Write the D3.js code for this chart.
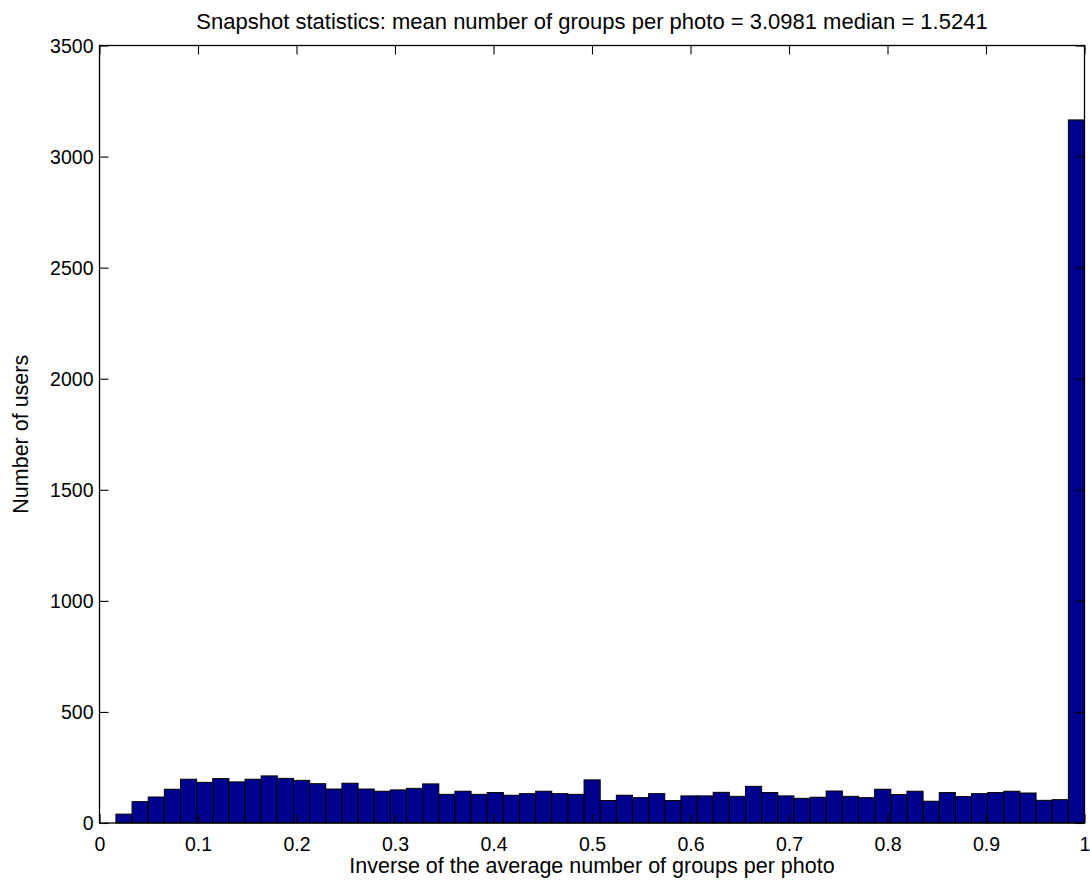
<!DOCTYPE html>
<html>
<head>
<meta charset="utf-8">
<script src="https://cdn.jsdelivr.net/npm/d3@7"></script>
<style>
  html, body { margin: 0; padding: 0; background: #fff; }
  svg { display: block; font-family: "Liberation Sans", Arial, Helvetica, sans-serif; }
</style>
</head>
<body>
<svg id="chart" width="1090" height="880"></svg>
<script>
// Histogram of users: inverse of the average number of groups per photo (60 bins)
const binStart = 1 / 60;
const binEnd = 1;
const counts = [
  40, 96, 117, 152, 197, 183, 200, 185, 197, 212,
  201, 192, 177, 153, 179, 153, 143, 149, 156, 176,
  129, 143, 129, 137, 125, 132, 143, 132, 129, 194,
  101, 125, 114, 132, 101, 122, 122, 138, 120, 165,
  137, 122, 111, 116, 144, 120, 114, 152, 128, 143,
  98, 137, 119, 132, 137, 143, 135, 102, 105, 3165
];
const xTicks = [0, 0.1, 0.2, 0.3, 0.4, 0.5, 0.6, 0.7, 0.8, 0.9, 1];
const yTicks = [0, 500, 1000, 1500, 2000, 2500, 3000, 3500];
const titleText = "Snapshot statistics: mean number of groups per photo = 3.0981 median = 1.5241";
const xLabelText = "Inverse of the average number of groups per photo";
const yLabelText = "Number of users";

const svg = d3.select("#chart");
const margin = { left: 99.5, right: 1084.5, top: 45.5, bottom: 823 };

const x = d3.scaleLinear().domain([0, 1]).range([margin.left, margin.right]);
const y = d3.scaleLinear().domain([0, 3500]).range([margin.bottom, margin.top]);

const binWidth = (binEnd - binStart) / counts.length;
const bins = counts.map((c, i) => ({
  x0: binStart + i * binWidth,
  x1: binStart + (i + 1) * binWidth,
  count: c
}));

// bars
svg.append("g")
  .selectAll("rect")
  .data(bins)
  .join("rect")
  .attr("x", d => x(d.x0))
  .attr("width", d => x(d.x1) - x(d.x0))
  .attr("y", d => y(d.count))
  .attr("height", d => y(0) - y(d.count))
  .attr("fill", "#00008f")
  .attr("stroke", "#000")
  .attr("stroke-width", 1);

// box around the axes
svg.append("rect")
  .attr("x", margin.left)
  .attr("y", margin.top)
  .attr("width", margin.right - margin.left)
  .attr("height", margin.bottom - margin.top)
  .attr("fill", "none")
  .attr("stroke", "#000")
  .attr("stroke-width", 1.3);

const tickLen = 9;
const tickFont = 19.5;
const labelFont = 21.5;
const plain = d3.format("");

// axes with inward ticks on all four sides
const xBottom = svg.append("g").attr("transform", `translate(0,${margin.bottom})`)
  .call(d3.axisBottom(x).tickValues(xTicks).tickSizeInner(-tickLen).tickSizeOuter(0).tickFormat(plain));
const xTop = svg.append("g").attr("transform", `translate(0,${margin.top})`)
  .call(d3.axisTop(x).tickValues(xTicks).tickSizeInner(-tickLen).tickSizeOuter(0).tickFormat(""));
const yLeft = svg.append("g").attr("transform", `translate(${margin.left},0)`)
  .call(d3.axisLeft(y).tickValues(yTicks).tickSizeInner(-tickLen).tickSizeOuter(0).tickFormat(plain));
const yRight = svg.append("g").attr("transform", `translate(${margin.right},0)`)
  .call(d3.axisRight(y).tickValues(yTicks).tickSizeInner(-tickLen).tickSizeOuter(0).tickFormat(""));

[xBottom, xTop, yLeft, yRight].forEach(g => {
  g.attr("font-size", null).attr("font-family", null);
  g.select(".domain").remove();
  g.selectAll(".tick line").attr("stroke", "#000").attr("stroke-width", 1.1);
  g.selectAll(".tick text")
    .attr("fill", "#000")
    .attr("font-size", tickFont)
    .attr("font-family", "'Liberation Sans', Arial, sans-serif");
});
xBottom.selectAll(".tick text").attr("y", 14).attr("dy", "0.71em");
yLeft.selectAll(".tick text").attr("x", -6).attr("dy", "0.35em");

// title and axis labels
svg.append("text")
  .attr("x", (margin.left + margin.right) / 2)
  .attr("y", 29)
  .attr("text-anchor", "middle")
  .attr("font-size", 22)
  .attr("fill", "#000")
  .text(titleText);

svg.append("text")
  .attr("x", (margin.left + margin.right) / 2)
  .attr("y", 873)
  .attr("text-anchor", "middle")
  .attr("font-size", labelFont)
  .attr("fill", "#000")
  .text(xLabelText);

svg.append("text")
  .attr("transform", `translate(28,${(margin.top + margin.bottom) / 2}) rotate(-90)`)
  .attr("text-anchor", "middle")
  .attr("font-size", labelFont)
  .attr("fill", "#000")
  .text(yLabelText);
</script>
</body>
</html>
